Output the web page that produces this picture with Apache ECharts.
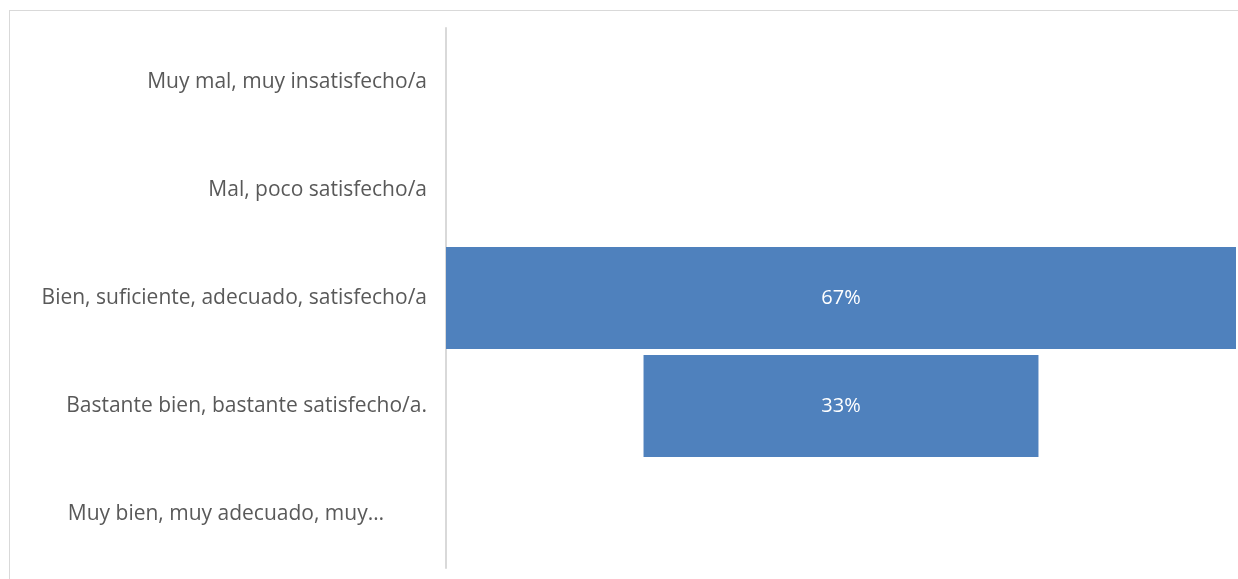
<!DOCTYPE html>
<html>
<head>
<meta charset="utf-8">
<script src="https://cdn.jsdelivr.net/npm/echarts@6/dist/echarts.min.js"></script>
<style>
  html, body { margin: 0; padding: 0; background: #fff; }
  #frame { position: absolute; left: 9px; top: 10px; width: 1240px; height: 590px; border: 1px solid #d9d9d9; box-sizing: border-box; }
  #chart { position: absolute; left: 0; top: 0; width: 1238px; height: 579px; }
</style>
</head>
<body>
<div id="frame"></div>
<div id="chart"></div>
<script>
// categories, top to bottom
const categories = [
  'Muy mal, muy insatisfecho/a',
  'Mal, poco satisfecho/a',
  'Bien, suficiente, adecuado, satisfecho/a',
  'Bastante bien, bastante satisfecho/a.',
  'Muy bien, muy adecuado, muy…'
]
// percentages (shown rounded)
const values = [0, 0, 66.67, 33.33, 0]

const maxVal = Math.max(...values)
// invisible offset so each bar sits centred
const offsets = values.map(v => (maxVal - v) / 2)

const chart = echarts.init(document.getElementById('chart'))

chart.setOption({
  animation: false,
  grid: {
    left: 446,
    right: 2,
    top: 28,
    bottom: 11,
    containLabel: false
  },
  xAxis: {
    type: 'value',
    min: 0,
    max: maxVal,
    show: false
  },
  yAxis: {
    type: 'category',
    inverse: true,
    data: categories,
    axisTick: { show: false },
    axisLine: {
      lineStyle: { color: '#d9d9d9', width: 2 }
    },
    axisLabel: {
      margin: 19,
      fontFamily: 'Open Sans',
      fontSize: 21,
      color: '#595959',
      formatter: function (val, i) {
        return i === 4 ? '{t|' + val + '}' : val
      },
      rich: {
        t: {
          fontFamily: 'Open Sans',
          fontSize: 21,
          color: '#595959',
          padding: [0, 43, 0, 0]
        }
      }
    }
  },
  series: [
    {
      name: 'offset',
      type: 'bar',
      stack: 'total',
      data: offsets,
      silent: true,
      itemStyle: { color: 'transparent' },
      barCategoryGap: '5.5%'
    },
    {
      name: 'valor',
      type: 'bar',
      stack: 'total',
      data: values,
      barCategoryGap: '5.5%',
      itemStyle: { color: '#4f81bd' },
      label: {
        show: true,
        position: 'inside',
        fontFamily: 'Open Sans',
        fontSize: 20,
        color: '#ffffff',
        formatter: function (p) {
          return p.value ? Math.round(p.value) + '%' : ''
        }
      }
    }
  ]
})
</script>
</body>
</html>
